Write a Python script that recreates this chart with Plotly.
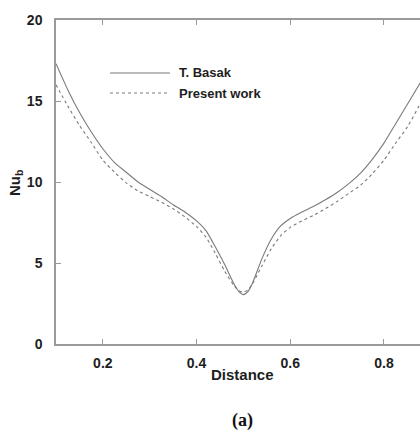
import plotly.graph_objects as go

# T. Basak (solid)
basak_x = [0.100, 0.125, 0.150, 0.175, 0.200, 0.225, 0.250, 0.275, 0.300, 0.325, 0.350, 0.375,
           0.400, 0.420, 0.440, 0.460, 0.480, 0.490, 0.500, 0.510, 0.520, 0.540, 0.560, 0.580,
           0.600, 0.625, 0.650, 0.675, 0.700, 0.725, 0.750, 0.775, 0.800, 0.825, 0.850, 0.875,
           0.900]
basak_y = [17.3, 15.7, 14.3, 13.1, 12.05, 11.2, 10.6, 10.0, 9.55, 9.1, 8.6, 8.15,
           7.6, 7.0, 6.0, 4.9, 3.7, 3.25, 3.05, 3.25, 3.8, 5.3, 6.5, 7.3,
           7.75, 8.15, 8.5, 8.9, 9.35, 9.9, 10.55, 11.4, 12.4, 13.6, 14.8, 16.0,
           17.4]
# Present work (dashed)
present_x = [0.100, 0.125, 0.150, 0.175, 0.200, 0.225, 0.250, 0.275, 0.300, 0.325, 0.350, 0.375,
             0.400, 0.420, 0.440, 0.460, 0.480, 0.490, 0.500, 0.510, 0.520, 0.540, 0.560, 0.580,
             0.600, 0.625, 0.650, 0.675, 0.700, 0.725, 0.750, 0.775, 0.800, 0.825, 0.850, 0.875,
             0.900]
present_y = [16.0, 14.7, 13.5, 12.45, 11.35, 10.6, 9.95, 9.45, 9.1, 8.75, 8.35, 7.85,
             7.25, 6.6, 5.6, 4.5, 3.6, 3.3, 3.2, 3.35, 3.75, 4.85, 5.9, 6.7,
             7.2, 7.6, 7.95, 8.35, 8.8, 9.3, 9.8, 10.5, 11.35, 12.4, 13.4, 14.7,
             16.2]

x_ticks = [0.2, 0.4, 0.6, 0.8]
y_ticks = [0, 5, 10, 15, 20]
legend_names = ["T. Basak", "Present work"]

W, H = 420, 435
L, R, T, B = 56, 0, 20, 91
pw, ph = W - L - R, H - T - B

FONT = "Liberation Sans, Arial"
AX = "#9a9a9a"
LC = "#7a7a7a"
TC = "#1e1e1e"

fig = go.Figure()
fig.add_trace(go.Scatter(x=basak_x, y=basak_y, mode="lines", name=legend_names[0],
                         line=dict(color=LC, width=1.1, shape="spline", smoothing=0.6)))
fig.add_trace(go.Scatter(x=present_x, y=present_y, mode="lines", name=legend_names[1],
                         line=dict(color=LC, width=1.1, dash="3px,3px", shape="spline", smoothing=0.6)))
# invisible trace for top axis
fig.add_trace(go.Scatter(x=[x_ticks[0]], y=[y_ticks[0]], xaxis="x2", mode="markers",
                         marker=dict(opacity=0), showlegend=False, hoverinfo="skip"))

xr = [0.1, 0.1 + pw / 468.5]
fig.update_layout(
    width=W, height=H, margin=dict(l=L, r=R, t=T, b=B),
    paper_bgcolor="white", plot_bgcolor="white", showlegend=False,
    xaxis=dict(range=xr, tickvals=x_ticks, ticktext=["<b>%s</b>" % v for v in x_ticks],
               showgrid=False, zeroline=False, showline=True, linecolor=AX, linewidth=1.5,
               ticks="inside", ticklen=5, tickcolor=AX, tickwidth=1.2,
               tickfont=dict(family=FONT, size=14, color=TC), ticklabelstandoff=5),
    xaxis2=dict(range=xr, overlaying="x", side="top", tickvals=x_ticks, showticklabels=False,
                showgrid=False, zeroline=False, showline=True, linecolor=AX, linewidth=1.5,
                ticks="inside", ticklen=5, tickcolor=AX, tickwidth=1.2),
    yaxis=dict(range=[0, 20], tickvals=y_ticks, ticktext=["<b>%d</b>" % v for v in y_ticks],
               showgrid=False, zeroline=False,
               showline=True, linecolor=AX, linewidth=1.5,
               ticks="inside", ticklen=5, tickcolor=AX, tickwidth=1.2,
               tickfont=dict(family=FONT, size=14, color=TC), ticklabelstandoff=9),
)

def px(xp):
    return (xp - L) / pw

def py(yp):
    return (H - B - yp) / ph

# legend samples
for i, (yy, dash) in enumerate([(73, "solid"), (93, "3px,3px")]):
    fig.add_shape(type="line", xref="paper", yref="paper", x0=px(110), x1=px(170),
                  y0=py(yy), y1=py(yy), line=dict(color=LC, width=1.1, dash=dash))
    fig.add_annotation(xref="paper", yref="paper", x=px(177), y=py(yy),
                       text="<b>%s</b>" % legend_names[i],
                       showarrow=False, xanchor="left", yanchor="middle",
                       font=dict(family=FONT, size=13, color=TC))

fig.add_annotation(xref="paper", yref="paper", x=px(242), y=py(374), text="<b>Distance</b>",
                   showarrow=False, xanchor="center", yanchor="middle",
                   font=dict(family=FONT, size=15, color=TC))
fig.add_annotation(xref="paper", yref="paper", x=px(15), y=py(183), text="<b>Nu<sub>b</sub></b>",
                   showarrow=False, textangle=-90, xanchor="center", yanchor="middle",
                   font=dict(family=FONT, size=15, color=TC))
fig.add_annotation(xref="paper", yref="paper", x=px(243), y=py(420), text="<b>(a)</b>",
                   showarrow=False, xanchor="center", yanchor="middle",
                   font=dict(family="Liberation Serif, Times New Roman", size=18, color="#111"))

fig.write_html("out.html")
